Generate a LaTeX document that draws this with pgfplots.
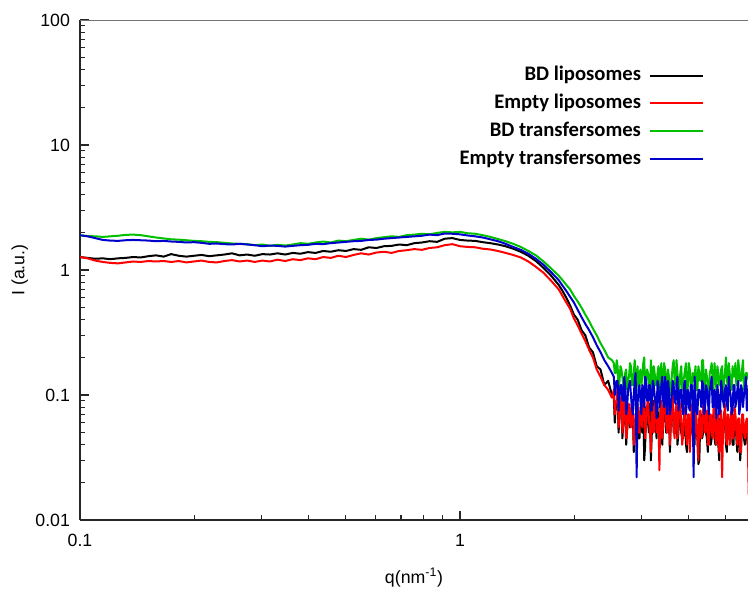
\documentclass[border=0pt]{standalone}
\usepackage{fontspec}
\setmainfont{Liberation Sans}
\newfontfamily\legfont{Carlito}
\usepackage{pgfplots}
\usepackage{pgfplotstable}
\pgfplotsset{compat=1.18}
\definecolor{cgreen}{RGB}{0,192,0}
\definecolor{cblue}{RGB}{0,0,204}
\definecolor{cred}{RGB}{255,0,0}

\pgfplotstableread{
q K R G B
0.1000 1.27 1.27 1.89 1.90
0.1047 1.25 1.24 1.87 1.86
0.1096 1.23 1.19 1.86 1.80
0.1148 1.24 1.16 1.84 1.74
0.1202 1.22 1.14 1.86 1.72
0.1259 1.24 1.13 1.88 1.71
0.1318 1.25 1.15 1.91 1.73
0.1380 1.27 1.17 1.92 1.74
0.1445 1.26 1.16 1.90 1.73
0.1514 1.29 1.18 1.86 1.72
0.1585 1.31 1.17 1.82 1.70
0.1660 1.28 1.18 1.79 1.71
0.1738 1.34 1.16 1.76 1.69
0.1820 1.30 1.18 1.75 1.68
0.1905 1.28 1.15 1.73 1.66
0.1995 1.30 1.17 1.71 1.67
0.2089 1.32 1.19 1.70 1.65
0.2188 1.29 1.16 1.68 1.62
0.2291 1.31 1.15 1.67 1.63
0.2399 1.33 1.18 1.65 1.61
0.2512 1.36 1.20 1.63 1.60
0.2630 1.31 1.17 1.62 1.62
0.2754 1.33 1.19 1.61 1.60
0.2884 1.30 1.16 1.58 1.58
0.3020 1.34 1.19 1.60 1.55
0.3162 1.33 1.17 1.56 1.57
0.3311 1.36 1.21 1.59 1.56
0.3467 1.33 1.18 1.57 1.54
0.3631 1.37 1.22 1.60 1.56
0.3802 1.35 1.20 1.64 1.58
0.3981 1.39 1.24 1.62 1.59
0.4169 1.37 1.22 1.66 1.62
0.4365 1.42 1.27 1.69 1.61
0.4571 1.40 1.25 1.66 1.64
0.4786 1.44 1.30 1.72 1.66
0.5012 1.42 1.27 1.70 1.68
0.5248 1.47 1.32 1.74 1.70
0.5495 1.45 1.36 1.78 1.71
0.5754 1.52 1.33 1.75 1.74
0.6026 1.50 1.38 1.80 1.75
0.6310 1.55 1.40 1.83 1.78
0.6607 1.56 1.37 1.86 1.80
0.6918 1.60 1.42 1.84 1.82
0.7244 1.58 1.44 1.90 1.84
0.7586 1.64 1.47 1.92 1.86
0.7943 1.66 1.45 1.95 1.88
0.8318 1.70 1.50 1.93 1.92
0.8710 1.68 1.52 1.98 1.90
0.9120 1.78 1.58 2.02 1.96
0.9550 1.80 1.61 2.00 1.95
1.0000 1.74 1.55 2.02 1.93
1.0471 1.72 1.53 1.97 1.89
1.0965 1.71 1.52 1.95 1.86
1.1482 1.67 1.48 1.90 1.82
1.2023 1.64 1.46 1.84 1.76
1.2589 1.60 1.42 1.77 1.70
1.3183 1.55 1.37 1.70 1.62
1.3804 1.48 1.32 1.62 1.53
1.4454 1.40 1.26 1.53 1.45
1.5136 1.30 1.17 1.42 1.35
1.5849 1.18 1.06 1.31 1.23
1.6596 1.04 0.95 1.17 1.10
1.7378 0.90 0.82 1.03 0.96
1.8197 0.76 0.70 0.90 0.83
1.8621 0.68 0.62 0.83 0.75
1.9055 0.60 0.55 0.76 0.68
1.9498 0.52 0.49 0.70 0.61
1.9953 0.44 0.41 0.62 0.55
2.0417 0.40 0.36 0.56 0.48
2.0893 0.33 0.31 0.50 0.42
2.1380 0.30 0.27 0.44 0.37
2.1878 0.24 0.23 0.39 0.33
2.2387 0.22 0.20 0.34 0.29
2.2909 0.17 0.16 0.30 0.25
2.3442 0.16 0.14 0.26 0.22
2.3988 0.12 0.12 0.23 0.19
2.4547 0.13 0.11 0.20 0.17
2.5119 0.10 0.095 0.19 0.15
2.5410 0.095 0.11 0.18 0.14
2.5558 0.06 0.07 0.15 0.10
2.5704 0.08 0.085 0.15 0.12
2.5854 0.08 0.09 0.19 0.13
2.6002 0.10 0.12 0.17 0.13
2.6152 0.05 0.055 0.11 0.075
2.6303 0.07 0.07 0.13 0.10
2.6455 0.07 0.08 0.17 0.12
2.6607 0.09 0.10 0.16 0.12
2.6761 0.045 0.05 0.14 0.09
2.6915 0.06 0.06 0.12 0.09
2.7071 0.09 0.10 0.10 0.14
2.7227 0.085 0.09 0.15 0.115
2.7384 0.04 0.045 0.16 0.07
2.7542 0.055 0.05 0.11 0.08
2.7701 0.065 0.075 0.13 0.11
2.7861 0.08 0.085 0.14 0.12
2.8022 0.055 0.06 0.18 0.13
2.8184 0.06 0.055 0.17 0.10
2.8346 0.08 0.09 0.12 0.08
2.8510 0.075 0.08 0.12 0.07
2.8674 0.035 0.04 0.15 0.10
2.8840 0.05 0.045 0.19 0.13
2.9006 0.06 0.07 0.11 0.15
2.9174 0.07 0.075 0.13 0.022
2.9342 0.075 0.085 0.17 0.085
2.9512 0.045 0.05 0.11 0.11
2.9682 0.045 0.05 0.14 0.12
2.9854 0.075 0.08 0.16 0.09
3.0026 0.055 0.065 0.12 0.07
3.0200 0.05 0.055 0.14 0.12
3.0373 0.09 0.10 0.18 0.11
3.0549 0.03 0.09 0.20 0.08
3.0725 0.04 0.045 0.11 0.14
3.0903 0.08 0.06 0.12 0.13
3.1081 0.07 0.08 0.16 0.09
3.1261 0.06 0.10 0.15 0.09
3.1441 0.05 0.06 0.13 0.12
3.1623 0.085 0.055 0.10 0.12
3.1805 0.03 0.035 0.19 0.075
3.1989 0.05 0.085 0.14 0.075
3.2173 0.065 0.075 0.10 0.13
3.2359 0.09 0.05 0.17 0.12
3.2546 0.08 0.09 0.15 0.10
3.2734 0.06 0.095 0.12 0.085
3.2923 0.045 0.05 0.12 0.065
3.3113 0.08 0.06 0.15 0.13
3.3304 0.055 0.065 0.17 0.12
3.3497 0.055 0.025 0.11 0.08
3.3690 0.07 0.08 0.14 0.09
3.3884 0.085 0.09 0.18 0.12
3.4080 0.04 0.045 0.11 0.14
3.4277 0.06 0.06 0.13 0.09
3.4475 0.09 0.10 0.18 0.08
3.4674 0.09 0.11 0.16 0.14
3.4874 0.05 0.06 0.13 0.11
3.5075 0.05 0.05 0.12 0.07
3.5278 0.06 0.07 0.16 0.13
3.5481 0.08 0.085 0.14 0.11
3.5686 0.035 0.04 0.10 0.07
3.5892 0.06 0.06 0.10 0.08
3.6099 0.075 0.085 0.14 0.10
3.6308 0.09 0.10 0.17 0.13
3.6517 0.05 0.055 0.19 0.12
3.6728 0.055 0.045 0.13 0.09
3.6940 0.065 0.075 0.12 0.085
3.7154 0.08 0.085 0.19 0.12
3.7368 0.04 0.045 0.15 0.14
3.7584 0.05 0.055 0.12 0.075
3.7801 0.08 0.09 0.11 0.09
3.8019 0.075 0.08 0.15 0.11
3.8239 0.05 0.06 0.17 0.11
3.8459 0.045 0.04 0.11 0.08
3.8681 0.045 0.05 0.13 0.07
3.8905 0.07 0.075 0.14 0.12
3.9129 0.07 0.08 0.16 0.13
3.9355 0.04 0.05 0.18 0.07
3.9582 0.035 0.04 0.10 0.10
3.9811 0.065 0.07 0.12 0.11
4.0041 0.06 0.07 0.18 0.08
4.0272 0.045 0.035 0.16 0.075
4.0504 0.05 0.055 0.12 0.12
4.0738 0.07 0.08 0.10 0.12
4.0973 0.075 0.085 0.15 0.09
4.1210 0.05 0.05 0.13 0.022
4.1448 0.04 0.045 0.14 0.14
4.1687 0.075 0.075 0.17 0.10
4.1928 0.055 0.065 0.11 0.075
4.2170 0.045 0.045 0.11 0.07
4.2413 0.028 0.03 0.17 0.11
4.2658 0.03 0.07 0.15 0.11
4.2905 0.065 0.075 0.13 0.10
4.3152 0.07 0.045 0.13 0.08
4.3401 0.045 0.05 0.19 0.13
4.3652 0.05 0.08 0.19 0.12
4.3904 0.08 0.09 0.10 0.07
4.4157 0.075 0.05 0.12 0.075
4.4412 0.05 0.06 0.16 0.12
4.4668 0.045 0.075 0.14 0.11
4.4927 0.035 0.04 0.12 0.09
4.5186 0.07 0.04 0.10 0.07
4.5447 0.06 0.07 0.15 0.11
4.5709 0.04 0.07 0.16 0.12
4.5973 0.045 0.05 0.18 0.14
4.6238 0.065 0.045 0.13 0.08
4.6505 0.07 0.08 0.11 0.08
4.6774 0.045 0.075 0.18 0.11
4.7044 0.04 0.045 0.14 0.10
4.7315 0.07 0.04 0.11 0.065
4.7588 0.055 0.065 0.17 0.12
4.7863 0.04 0.07 0.15 0.10
4.8139 0.03 0.035 0.12 0.07
4.8417 0.065 0.05 0.12 0.075
4.8697 0.065 0.075 0.16 0.13
4.8978 0.045 0.022 0.17 0.11
4.9261 0.05 0.055 0.10 0.09
4.9545 0.07 0.065 0.13 0.08
4.9831 0.075 0.085 0.15 0.11
5.0119 0.04 0.045 0.20 0.12
5.0408 0.035 0.04 0.13 0.085
5.0699 0.065 0.07 0.12 0.075
5.0992 0.05 0.06 0.18 0.14
5.1286 0.045 0.04 0.15 0.11
5.1582 0.06 0.07 0.11 0.10
5.1880 0.07 0.075 0.11 0.07
5.2180 0.04 0.045 0.17 0.075
5.2481 0.04 0.045 0.14 0.12
5.2784 0.07 0.08 0.14 0.12
5.3088 0.065 0.07 0.18 0.08
5.3395 0.045 0.05 0.12 0.09
5.3703 0.035 0.04 0.12 0.11
5.4013 0.055 0.065 0.19 0.13
5.4325 0.06 0.065 0.16 0.07
5.4639 0.03 0.035 0.13 0.08
5.4954 0.04 0.035 0.13 0.12
5.5271 0.06 0.07 0.16 0.11
5.5590 0.065 0.07 0.19 0.08
5.5911 0.045 0.05 0.11 0.10
5.6234 0.04 0.045 0.12 0.11
5.6559 0.05 0.06 0.15 0.14
5.6885 0.06 0.065 0.15 0.075
5.7214 0.04 0.045 0.14 0.09
5.7544 0.04 0.016 0.13 0.12
}\saxs

\begin{document}
\begin{tikzpicture}
\begin{axis}[
  scale only axis, width=501pt, height=375pt,
  xmode=log, ymode=log,
  xmin=0.1, xmax=5.73, ymin=0.01, ymax=100,
  axis x line=bottom, axis y line=left,
  axis line style={-, black!85, line width=1.3pt},
  tick style={black!85, line width=0.9pt},
  tick align=inside,
  major tick length=6.5pt, minor tick length=3.5pt,
  xtick={0.1,1}, xticklabels={0.1,1},
  minor xtick={0.2,0.3,0.4,0.5,0.6,0.7,0.8,0.9,2,3,4,5},
  ytick={0.01,0.1,1,10,100}, yticklabels={0.01,0.1,1,10,100},
  minor ytick={0.02,0.03,0.04,0.05,0.06,0.07,0.08,0.09,0.2,0.3,0.4,0.5,0.6,0.7,0.8,0.9,2,3,4,5,6,7,8,9,20,30,40,50,60,70,80,90},
  /pgf/number format/assume math mode=true,
  tick label style={font=\fontsize{13.3}{16}\selectfont},
  xticklabel style={yshift=-7pt},
  yticklabel style={xshift=-4pt},
  xlabel={q(nm\textsuperscript{-1})},
  ylabel={I (a.u.)},
  every axis x label/.style={at={(axis description cs:0.5,-0.116)}, anchor=center,
    font=\fontsize{13.3}{16}\selectfont},
  every axis y label/.style={at={(axis description cs:-0.09,0.5)}, anchor=center, rotate=90,
    font=\fontsize{13.3}{16}\selectfont},
  legend plot pos=right,
  legend cell align=right,
  legend image code/.code={\draw[#1, line width=1.5pt] (0pt,0pt) -- (40pt,0pt);},
  legend style={draw=none, fill=none, at={(rel axis cs:0.935,0.908)}, anchor=north east,
    font=\legfont\bfseries\fontsize{15.5}{18}\selectfont,
    row sep=6.8pt, inner sep=0pt,
    nodes={inner sep=0pt, text height=11pt, text depth=3pt}},
  every axis plot/.append style={line width=1.5pt, line join=round},
]
\addplot[black] table[x=q, y=K] {\saxs};
\addlegendentry{BD liposomes\hspace*{6pt}}
\addplot[cred] table[x=q, y=R] {\saxs};
\addlegendentry{Empty liposomes\hspace*{6pt}}
\addplot[cgreen] table[x=q, y=G] {\saxs};
\addlegendentry{BD transfersomes\hspace*{6pt}}
\addplot[cblue] table[x=q, y=B] {\saxs};
\addlegendentry{Empty transfersomes\hspace*{6pt}}
\draw[black!55, line width=1pt] (rel axis cs:0,1) -- (rel axis cs:1,1);
\end{axis}
\pgfresetboundingbox
\path (-60pt,-55.5pt) rectangle (501pt,390pt);
\end{tikzpicture}
\end{document}
